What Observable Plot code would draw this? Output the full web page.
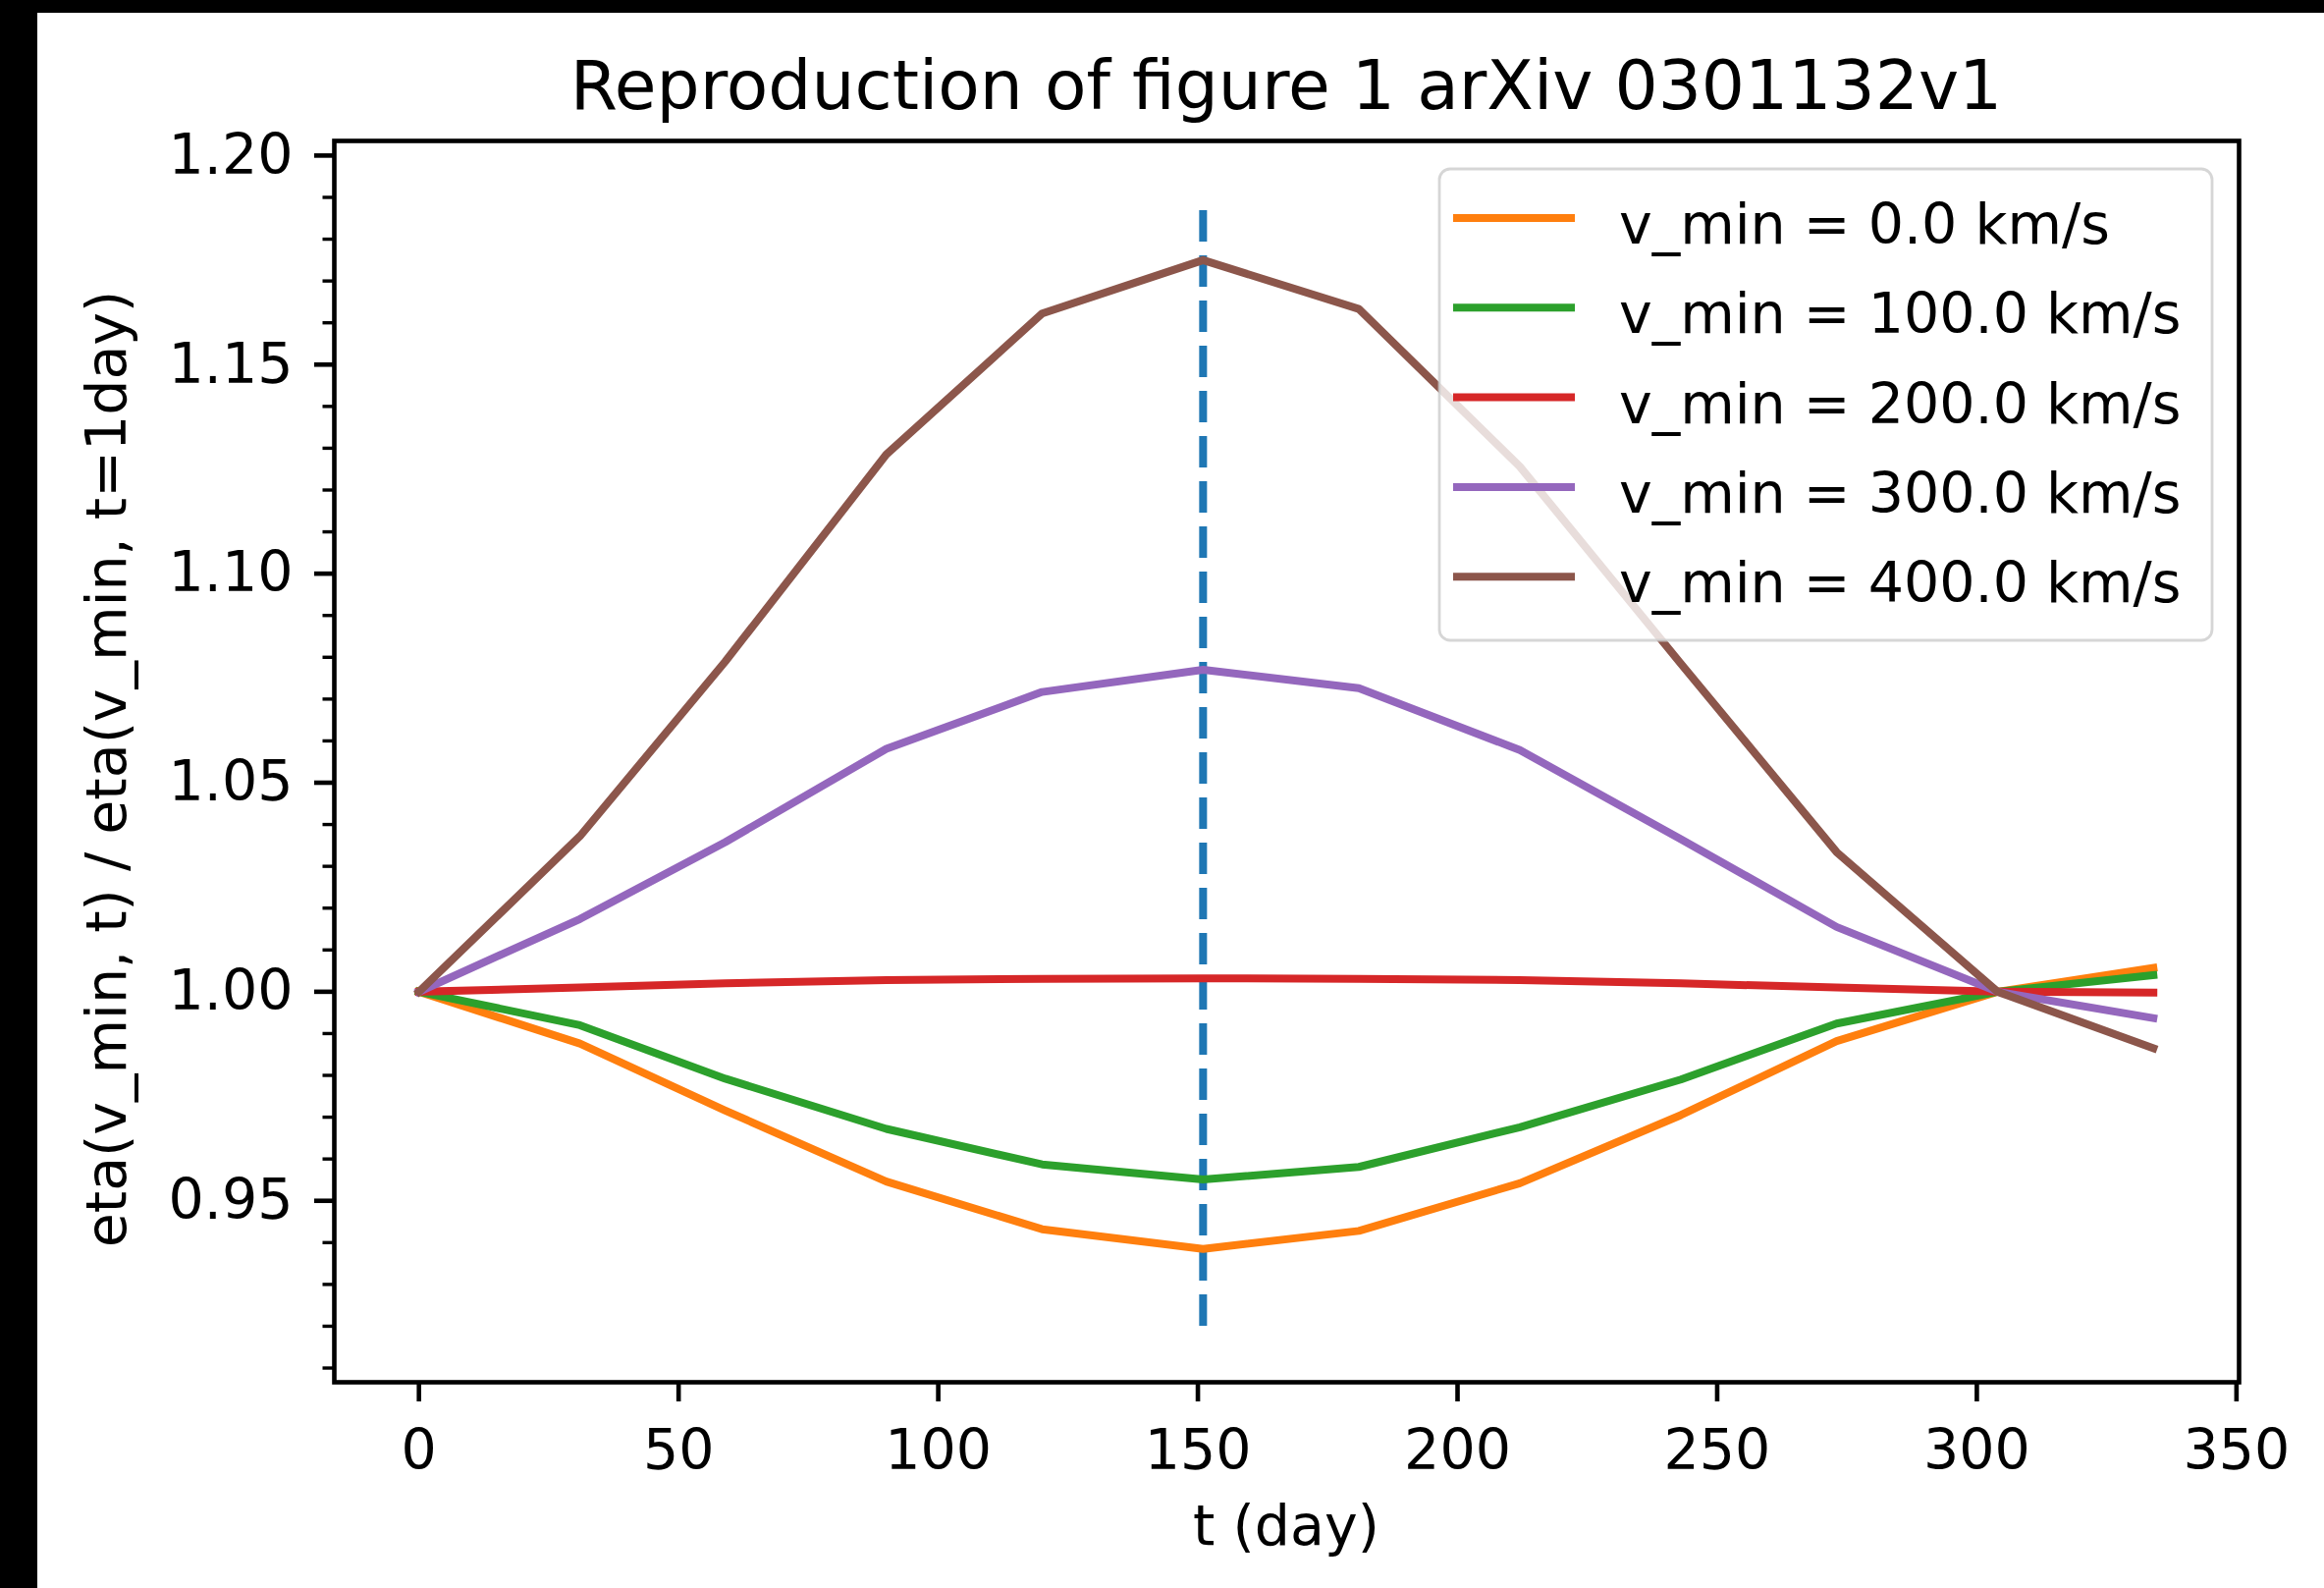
<!DOCTYPE html>
<html>
<head>
<meta charset="utf-8">
<script src="https://cdn.jsdelivr.net/npm/d3@7"></script>
<script src="https://cdn.jsdelivr.net/npm/@observablehq/plot@0.6"></script>
<style>
  html, body { margin: 0; padding: 0; background: #000; width: 2367px; height: 1617px; overflow: hidden; }
  #paper { position: absolute; left: 38px; top: 13px; width: 2329px; height: 1604px; background: #fff; }
  #chart { position: absolute; left: 0; top: 0; }
  #overlay { position: absolute; left: 0; top: 0; pointer-events: none; }
</style>
</head>
<body>
<div id="paper"><div id="chart"></div></div>
<svg id="overlay" width="2367" height="1617"></svg>
<script>
// ---------------- data ----------------
const titleText = "Reproduction of figure 1 arXiv 0301132v1";
const xLabel = "t (day)";
const yLabel = "eta(v_min, t) / eta(v_min, t=1day)";

const days = [0, 31, 59, 90, 120, 151, 181, 212, 243, 273, 304, 334];

const seriesLabels = [
  "v_min = 0.0 km/s",
  "v_min = 100.0 km/s",
  "v_min = 200.0 km/s",
  "v_min = 300.0 km/s",
  "v_min = 400.0 km/s"
];

const eta_v0   = [1.0000, 0.9876, 0.9716, 0.9546, 0.9432, 0.9385, 0.9428, 0.9542, 0.9705, 0.9882, 1.0000, 1.0057];
const eta_v100 = [1.0000, 0.9920, 0.9792, 0.9672, 0.9587, 0.9551, 0.9581, 0.9676, 0.9790, 0.9924, 1.0000, 1.0040];
const eta_v200 = [1.0000, 1.0010, 1.0020, 1.0028, 1.0031, 1.0032, 1.0031, 1.0028, 1.0020, 1.0010, 1.0000, 0.9998];
const eta_v300 = [1.0000, 1.0174, 1.0358, 1.0581, 1.0717, 1.0770, 1.0726, 1.0578, 1.0365, 1.0155, 1.0000, 0.9937];
const eta_v400 = [1.0000, 1.0372, 1.0790, 1.1285, 1.1622, 1.1750, 1.1633, 1.1256, 1.0785, 1.0334, 1.0000, 0.9865];

const seriesValues = [eta_v0, eta_v100, eta_v200, eta_v300, eta_v400];
const seriesColors = ["#ff7f0e", "#2ca02c", "#d62728", "#9467bd", "#8c564b"];

const peakDay = [151];
const peakRange = [0.92, 1.19];

const xTicks = [0, 50, 100, 150, 200, 250, 300, 350];
const yTicks = [0.95, 1.00, 1.05, 1.10, 1.15, 1.20];
const yMinorTicks = [0.91, 0.92, 0.93, 0.94, 0.96, 0.97, 0.98, 0.99, 1.01, 1.02, 1.03, 1.04,
                     1.06, 1.07, 1.08, 1.09, 1.11, 1.12, 1.13, 1.14, 1.16, 1.17, 1.18, 1.19];

// ---------------- build table ----------------
const rows = [];
seriesValues.forEach((vals, i) => {
  days.forEach((d, j) => rows.push({ day: d, eta: vals[j], series: seriesLabels[i] }));
});

const FONT = "DejaVu Sans, sans-serif";

const plot = Plot.plot({
  width: 2329,
  height: 1604,
  marginLeft: 302,
  marginRight: 87,
  marginTop: 130,
  marginBottom: 210,
  style: { fontFamily: FONT, fontSize: "57px", color: "#000", background: "white", overflow: "visible" },
  x: { domain: [-16.3, 350.5], label: null },
  y: { domain: [0.9066, 1.2035], label: null },
  color: { domain: seriesLabels, range: seriesColors },
  marks: [
    Plot.ruleX(peakDay, { x: d => d, y1: peakRange[0], y2: peakRange[1], stroke: "#1f77b4", strokeWidth: 8, strokeDasharray: "32,14" }),
    Plot.line(rows, { x: "day", y: "eta", z: "series", stroke: "series", strokeWidth: 8, strokeLinejoin: "round", strokeLinecap: "square" }),
    Plot.frame({ stroke: "#000", strokeWidth: 4.6 }),
    Plot.axisX(xTicks, { tickSize: 20, tickPadding: 28, tickFormat: d => String(d), strokeWidth: 4.6, fontSize: 57, fill: "#000" }),
    Plot.axisY(yTicks, { tickSize: 20, tickPadding: 22, tickFormat: d => d.toFixed(2), strokeWidth: 4.6, fontSize: 57, fill: "#000" }),
    Plot.axisY(yMinorTicks, { tickSize: 11.5, tickPadding: 0, tickFormat: () => "", strokeWidth: 3.4 })
  ]
});
document.getElementById("chart").appendChild(plot);

// ---------------- title, axis labels, legend ----------------
const ov = d3.select("#overlay");
ov.append("text").attr("x", 1310).attr("y", 111).attr("text-anchor", "middle")
  .attr("font-family", FONT).attr("font-size", 69.5).attr("fill", "#000").text(titleText);
ov.append("text").attr("x", 1310).attr("y", 1573).attr("text-anchor", "middle")
  .attr("font-family", FONT).attr("font-size", 57).attr("fill", "#000").text(xLabel);
ov.append("text").attr("transform", "translate(128,783) rotate(-90)").attr("text-anchor", "middle")
  .attr("font-family", FONT).attr("font-size", 57).attr("fill", "#000").text(yLabel);

const lg = ov.append("g");
lg.append("rect").attr("x", 1466).attr("y", 172).attr("width", 787).attr("height", 480)
  .attr("rx", 11).attr("fill", "#fff").attr("fill-opacity", 0.8)
  .attr("stroke", "#cccccc").attr("stroke-opacity", 0.8).attr("stroke-width", 2.8);
seriesLabels.forEach((lab, i) => {
  const cy = 222 + i * 91.3;
  lg.append("line").attr("x1", 1480).attr("x2", 1604).attr("y1", cy).attr("y2", cy)
    .attr("stroke", seriesColors[i]).attr("stroke-width", 8);
  lg.append("text").attr("x", 1649).attr("y", cy + 26)
    .attr("font-family", FONT).attr("font-size", 57).attr("fill", "#000").text(lab);
});
</script>
</body>
</html>
